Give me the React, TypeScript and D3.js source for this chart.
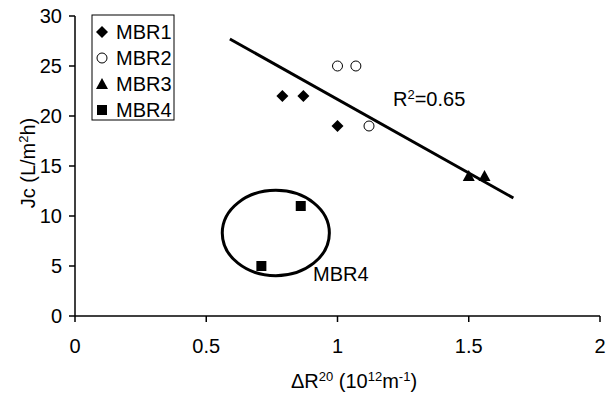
import React from "react";
import * as d3 from "d3";

const mbr1 = [
  { x: 0.79, y: 22 },
  { x: 0.87, y: 22 },
  { x: 1.0, y: 19 },
];
const mbr2 = [
  { x: 1.0, y: 25 },
  { x: 1.07, y: 25 },
  { x: 1.12, y: 19 },
];
const mbr3 = [
  { x: 1.5, y: 14 },
  { x: 1.56, y: 14 },
];
const mbr4 = [
  { x: 0.86, y: 11 },
  { x: 0.71, y: 5 },
];
const trend = [
  { x: 0.59, y: 27.7 },
  { x: 1.67, y: 11.8 },
];
const ellipse = { cx: 0.765, cy: 8.3, rx: 0.204, ry: 4.27 };
const xTicks = [0, 0.5, 1, 1.5, 2];
const yTicks = [0, 5, 10, 15, 20, 25, 30];
const legendNames = ["MBR1", "MBR2", "MBR3", "MBR4"];

const width = 606;
const height = 396;
const margin = { top: 16, right: 6, bottom: 80, left: 75 };
const font = "Arial, 'Liberation Sans', sans-serif";
const fs = 20;
const sup = 13;

const Marker = ({ kind, x, y }: { kind: number; x: number; y: number }) => {
  if (kind === 0) {
    return <path d={`M${x},${y - 6}L${x + 6},${y}L${x},${y + 6}L${x - 6},${y}Z`} fill="#000" />;
  }
  if (kind === 1) {
    return <circle cx={x} cy={y} r={5} fill="#fff" stroke="#000" strokeWidth={1} />;
  }
  if (kind === 2) {
    return <path d={`M${x},${y - 6}L${x + 6},${y + 5}L${x - 6},${y + 5}Z`} fill="#000" />;
  }
  return <rect x={x - 5} y={y - 5} width={10} height={10} fill="#000" />;
};

const App = () => {
  const xScale = d3.scaleLinear().domain([0, 2]).range([margin.left, width - margin.right]);
  const yScale = d3.scaleLinear().domain([0, 30]).range([height - margin.bottom, margin.top]);
  const x0 = xScale(0);
  const y0 = yScale(0);
  const line = d3
    .line<{ x: number; y: number }>()
    .x((d) => xScale(d.x))
    .y((d) => yScale(d.y));
  const series = [mbr1, mbr2, mbr3, mbr4];
  const ecx = xScale(ellipse.cx);
  const ecy = yScale(ellipse.cy);
  const erx = xScale(ellipse.cx + ellipse.rx) - ecx;
  const ery = ecy - yScale(ellipse.cy + ellipse.ry);

  return (
    <svg
      width={width}
      height={height}
      style={{ position: "absolute", left: 0, top: 0, background: "#fff" }}
      fontFamily={font}
    >
      <rect width={width} height={height} fill="#fff" />
      {/* axes */}
      <line x1={x0} x2={xScale(2)} y1={y0} y2={y0} stroke="#000" strokeWidth={1.5} />
      <line x1={x0} x2={x0} y1={y0} y2={yScale(30)} stroke="#000" strokeWidth={1.5} />
      {xTicks.map((t) => (
        <g key={"x" + t}>
          <line x1={xScale(t)} x2={xScale(t)} y1={y0} y2={y0 + 6} stroke="#000" strokeWidth={1.5} />
          <text x={xScale(t)} y={y0 + 37} textAnchor="middle" fontSize={fs}>
            {t}
          </text>
        </g>
      ))}
      {yTicks.map((t) => (
        <g key={"y" + t}>
          <line x1={x0 - 6} x2={x0} y1={yScale(t)} y2={yScale(t)} stroke="#000" strokeWidth={1.5} />
          <text x={x0 - 13} y={yScale(t) + 7} textAnchor="end" fontSize={fs}>
            {t}
          </text>
        </g>
      ))}
      <text transform="translate(35,163) rotate(-90)" textAnchor="middle" fontSize={fs}>
        Jc (L/m<tspan dy={-7} fontSize={sup}>2</tspan>
        <tspan dy={7}>h)</tspan>
      </text>
      <text x={354} y={388} textAnchor="middle" fontSize={fs}>
        ΔR<tspan dy={-7} fontSize={sup}>20</tspan>
        <tspan dy={7}> (10</tspan>
        <tspan dy={-7} fontSize={sup}>12</tspan>
        <tspan dy={7}>m</tspan>
        <tspan dy={-7} fontSize={sup}>-1</tspan>
        <tspan dy={7}>)</tspan>
      </text>

      {/* trend + ellipse */}
      <path d={line(trend) || ""} stroke="#000" strokeWidth={3} fill="none" />
      <ellipse cx={ecx} cy={ecy} rx={erx} ry={ery} stroke="#000" strokeWidth={3} fill="none" />

      {series.map((s, i) =>
        s.map((d, j) => <Marker key={i + "-" + j} kind={i} x={xScale(d.x)} y={yScale(d.y)} />)
      )}

      <text x={393} y={106} fontSize={fs}>
        R<tspan dy={-7} fontSize={sup}>2</tspan>
        <tspan dy={7}>=0.65</tspan>
      </text>
      <text x={313} y={281} fontSize={fs}>
        MBR4
      </text>

      {/* legend */}
      <rect x={92} y={15} width={82} height={105} fill="#fff" stroke="#000" strokeWidth={1} />
      {legendNames.map((n, i) => (
        <g key={n}>
          <Marker kind={i} x={102} y={32 + i * 26} />
          <text x={116} y={39 + i * 26} fontSize={fs}>
            {n}
          </text>
        </g>
      ))}
    </svg>
  );
};

export default App;
